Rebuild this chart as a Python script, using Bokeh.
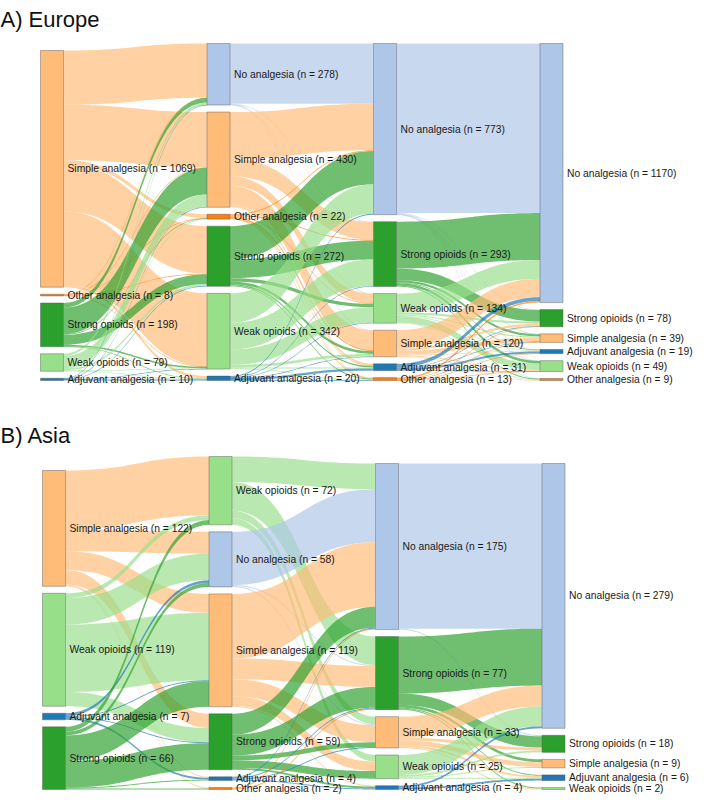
import numpy as np
from bokeh.plotting import figure
from bokeh.models import Range1d
from bokeh.embed import file_html
from bokeh.resources import INLINE
from bokeh.core.properties import value

# ---------------- DATA ----------------
colors = {
    "No analgesia": "#aec7e8",
    "Simple analgesia": "#ffbb78",
    "Other analgesia": "#ff7f0e",
    "Strong opioids": "#2ca02c",
    "Weak opioids": "#98df8a",
    "Adjuvant analgesia": "#1f77b4",
}

# Europe: node order per column (top to bottom)
eu_col0 = ["Simple analgesia", "Other analgesia", "Strong opioids", "Weak opioids", "Adjuvant analgesia"]
eu_col1 = ["No analgesia", "Simple analgesia", "Other analgesia", "Strong opioids", "Weak opioids", "Adjuvant analgesia"]
eu_col2 = ["No analgesia", "Strong opioids", "Weak opioids", "Simple analgesia", "Adjuvant analgesia", "Other analgesia"]
eu_col3 = ["No analgesia", "Strong opioids", "Simple analgesia", "Adjuvant analgesia", "Weak opioids", "Other analgesia"]

# flows: rows = source nodes, columns = target nodes
eu_flow_01 = [
    [245, 250, 17, 215, 330, 12],
    [1, 2, 1, 2, 2, 0],
    [21, 120, 3, 45, 7, 2],
    [10, 56, 1, 8, 2, 2],
    [1, 2, 0, 2, 1, 4],
]
eu_flow_12 = [
    [272, 2, 2, 2, 0, 0],
    [210, 80, 42, 87, 8, 3],
    [4, 4, 3, 6, 3, 2],
    [150, 85, 15, 12, 6, 4],
    [133, 120, 70, 12, 4, 3],
    [4, 2, 2, 1, 10, 1],
]
eu_flow_23 = [
    [766, 2, 2, 1, 1, 1],
    [212, 52, 10, 3, 12, 4],
    [85, 10, 5, 2, 30, 2],
    [83, 10, 18, 3, 4, 2],
    [17, 2, 2, 9, 1, 0],
    [7, 2, 2, 1, 1, 0],
]

# Asia
as_col0 = ["Simple analgesia", "Weak opioids", "Adjuvant analgesia", "Strong opioids"]
as_col1 = ["Weak opioids", "No analgesia", "Simple analgesia", "Strong opioids", "Adjuvant analgesia", "Other analgesia"]
as_col2 = ["No analgesia", "Strong opioids", "Simple analgesia", "Weak opioids", "Adjuvant analgesia"]
as_col3 = ["No analgesia", "Strong opioids", "Simple analgesia", "Adjuvant analgesia", "Weak opioids"]

as_flow_01 = [
    [62, 23, 20, 15, 1, 1],
    [5, 28, 71, 15, 0, 0],
    [0, 3, 1, 1, 2, 0],
    [5, 4, 27, 28, 1, 1],
]
as_flow_12 = [
    [27, 30, 8, 7, 0],
    [56, 1, 1, 0, 0],
    [68, 22, 18, 10, 1],
    [22, 22, 5, 8, 2],
    [1, 1, 1, 0, 1],
    [1, 1, 0, 0, 0],
]
as_flow_23 = [
    [174, 1, 0, 0, 0],
    [60, 12, 3, 1, 1],
    [22, 3, 5, 2, 1],
    [21, 2, 1, 1, 0],
    [2, 0, 0, 2, 0],
]

titles = ["A) Europe", "B) Asia"]

# ---------------- LAYOUT ----------------
NODE_W = 23
PAD = 7

p = figure(width=693, height=794, output_backend="svg", toolbar_location=None,
           x_range=Range1d(0, 693), y_range=Range1d(794, 0), min_border=0)
p.axis.visible = False
p.grid.visible = False
p.outline_line_color = None
p.background_fill_color = "white"


def bezier(x1, y1, x2, y2, n=40):
    t = np.linspace(0, 1, n)
    xm = (x1 + x2) / 2.0
    x = (1 - t) ** 3 * x1 + 3 * (1 - t) ** 2 * t * xm + 3 * (1 - t) * t ** 2 * xm + t ** 3 * x2
    y = (1 - t) ** 3 * y1 + 3 * (1 - t) ** 2 * t * y1 + 3 * (1 - t) * t ** 2 * y2 + t ** 3 * y2
    return x, y


def draw_sankey(cols, flows, x0, spacing, bottom, col_h, title, title_y):
    totals = [[sum(r) for r in flows[0]]]
    for f in flows:
        totals.append([sum(f[i][j] for i in range(len(f))) for j in range(len(f[0]))])
    grand = sum(totals[0])
    maxn = max(len(c) for c in cols)
    k = (col_h - (maxn - 1) * PAD) / grand
    xl = [x0 + i * spacing for i in range(len(cols))]
    pos = []
    for ci, col in enumerate(cols):
        h = grand * k + (len(col) - 1) * PAD
        y = bottom - h
        pl = []
        for t in totals[ci]:
            pl.append([y, y + t * k])
            y += t * k + PAD
        pos.append(pl)

    # links
    xs, ys, lc = [], [], []
    for ci, f in enumerate(flows):
        src_off = [pos[ci][i][0] for i in range(len(f))]
        tgt_off = [pos[ci + 1][j][0] for j in range(len(f[0]))]
        link_geo = {}
        for i in range(len(f)):
            for j in range(len(f[0])):
                v = f[i][j]
                if v <= 0:
                    continue
                link_geo[(i, j)] = [src_off[i]]
                src_off[i] += v * k
        for j in range(len(f[0])):
            for i in range(len(f)):
                v = f[i][j]
                if v <= 0:
                    continue
                link_geo[(i, j)].append(tgt_off[j])
                tgt_off[j] += v * k
        x1 = xl[ci] + NODE_W
        x2 = xl[ci + 1]
        for i in range(len(f)):
            for j in range(len(f[0])):
                v = f[i][j]
                if v <= 0:
                    continue
                s0, t0 = link_geo[(i, j)]
                h = max(v * k, 0.6)
                tx, ty = bezier(x1, s0, x2, t0)
                bx, by = bezier(x2, t0 + h, x1, s0 + h)
                xs.append(list(tx) + list(bx))
                ys.append(list(ty) + list(by))
                lc.append(colors[cols[ci][i]])
    p.patches(xs=xs, ys=ys, fill_color=lc, fill_alpha=0.68, line_color=None)

    # nodes
    L, R, T, B, C, lx, ly, lt = [], [], [], [], [], [], [], []
    for ci, col in enumerate(cols):
        for ni, name in enumerate(col):
            y0, y1 = pos[ci][ni]
            L.append(xl[ci]); R.append(xl[ci] + NODE_W)
            T.append(y0); B.append(max(y1, y0 + 1.2))
            C.append(colors[name])
            lx.append(xl[ci] + NODE_W + 4)
            ly.append((y0 + y1) / 2.0)
            lt.append(f"{name} (n = {totals[ci][ni]})")
    p.quad(left=L, right=R, top=T, bottom=B, fill_color=C, fill_alpha=1.0,
           line_color="#555555", line_alpha=0.7, line_width=0.6)
    p.text(x=lx, y=ly, text=lt, text_font=value("Liberation Sans"), text_font_size="10.3px",
           text_baseline="middle", text_align="left", text_color="#1a1a1a")
    p.text(x=[0], y=[title_y], text=[title], text_font=value("Liberation Sans"),
           text_font_size="22px", text_baseline="alphabetic", text_align="left", text_color="#111111")


draw_sankey([eu_col0, eu_col1, eu_col2, eu_col3], [eu_flow_01, eu_flow_12, eu_flow_23],
            40, 166.5, 380, 337, titles[0], 19)
draw_sankey([as_col0, as_col1, as_col2, as_col3], [as_flow_01, as_flow_12, as_flow_23],
            42, 166.5, 789, 333, titles[1], 435)

open("out.html", "w").write(file_html(p, INLINE))
